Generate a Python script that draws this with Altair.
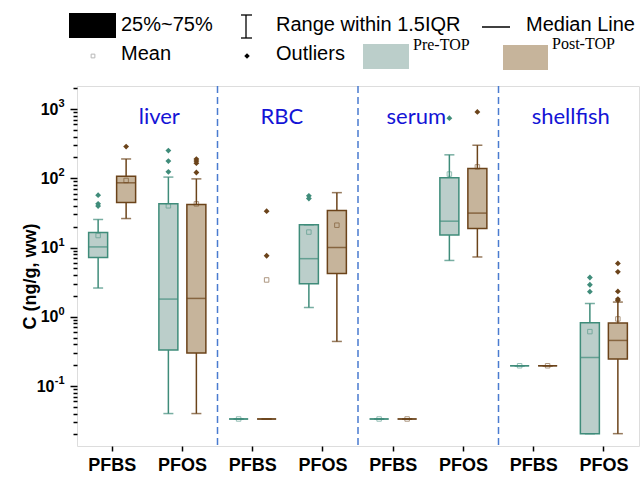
import altair as alt
import pandas as pd

groups = ["liver", "RBC", "serum", "shellfish"]
compounds = ["PFBS", "PFOS"]
treatments = ["Pre-TOP", "Post-TOP"]

# box order: group -> compound -> treatment (Pre, Post)
box_q1 = [7.2, 44.6, 0.33, 0.30, 0.0334, 0.0334, 3.0, 4.2,
          0.0334, 0.0334, 15.1, 18.8, 0.196, 0.196, 0.0205, 0.245]
box_median = [10.2, 86, 1.8, 1.84, 0.0334, 0.0334, 6.9, 10.0,
              0.0334, 0.0334, 24, 31.4, 0.196, 0.196, 0.259, 0.455]
box_q3 = [16.5, 107, 42.7, 41.8, 0.0334, 0.0334, 21.3, 34.2,
          0.0334, 0.0334, 102, 138, 0.196, 0.196, 0.82, 0.81]
whisker_low = [2.6, 26.2, 0.04, 0.04, 0.0334, 0.0334, 1.36, 0.44,
               0.0334, 0.0334, 6.5, 7.3, 0.196, 0.196, 0.0205, 0.0205]
whisker_high = [25.4, 190, 104, 98, 0.0334, 0.0334, 21.3, 62,
                0.0334, 0.0334, 218, 300, 0.196, 0.196, 1.56, 1.63]
box_mean = [14.9, 93, 40, 42.7, 0.0334, 3.4, 16.7, 21,
            0.0334, 0.0334, 115, 146, 0.196, 0.196, 0.61, 0.93]

outlier_group = ["liver"] * 11 + ["RBC"] * 4 + ["serum"] * 2 + ["shellfish"] * 8
outlier_compound = (["PFBS"] * 4 + ["PFOS"] * 7 + ["PFBS"] * 2 + ["PFOS"] * 2
                    + ["PFOS"] * 2 + ["PFOS"] * 8)
outlier_treatment = (["Pre-TOP"] * 3 + ["Post-TOP"] + ["Pre-TOP"] * 3 + ["Post-TOP"] * 4
                     + ["Post-TOP"] * 2 + ["Pre-TOP"] * 2
                     + ["Pre-TOP", "Post-TOP"]
                     + ["Pre-TOP"] * 3 + ["Post-TOP"] * 5)
outlier_value = [57, 42.7, 39.6, 287, 251, 177, 124, 189, 177, 165, 121,
                 33.5, 7.6, 55.7, 51,
                 737, 908,
                 3.69, 2.9, 2.3, 5.9, 4.46, 2.32, 1.8, 1.72]

y_major = [0.1, 1, 10, 100, 1000]
y_exponent = ["-1", "0", "1", "2", "3"]

# ---------- styling ----------
teal_fill, brown_fill = "#BBCECA", "#C6B49B"
teal_stroke, brown_stroke = "#3F8C7A", "#6B431A"
teal_out, brown_out = "#2F8A72", "#5A3210"
title_blue = "#1414D6"
dash_blue = "#4A7BD0"
label_dx = [12, -6, -12, 2]

cat_order = [f"{g}|{c}" for g in groups for c in compounds]

rows = []
i = 0
for g in groups:
    for c in compounds:
        for t in treatments:
            rows.append(dict(cat=f"{g}|{c}", treatment=t, q1=box_q1[i], med=box_median[i],
                             q3=box_q3[i], wlo=whisker_low[i], whi=whisker_high[i],
                             mean=box_mean[i]))
            i += 1
boxes = pd.DataFrame(rows)
outliers = pd.DataFrame(dict(cat=[f"{g}|{c}" for g, c in zip(outlier_group, outlier_compound)],
                             treatment=outlier_treatment, value=outlier_value))
bounds = pd.DataFrame(dict(cat=[f"{g}|PFBS" for g in groups[1:]]))
exps = pd.DataFrame(dict(value=y_major, exp=y_exponent))

ymin, ymax = 0.0136, 2150
tick_vals = [round(m * d, 6) for d in [0.01, 0.1, 1, 10, 100, 1000] for m in range(1, 10)]
tick_vals = [v for v in tick_vals if ymin <= v <= ymax]

major_test = " || ".join(f"datum.value == {k}" for k in y_major)
label_expr = f"({major_test}) ? '10' : ''"

x_axis = alt.Axis(labelExpr="split(datum.label, '|')[1]", title=None, labelAngle=0,
                  labelFont="Liberation Sans", labelFontWeight="bold", labelFontSize=18,
                  labelColor="black", labelPadding=5, tickSize=5, tickWidth=1.5,
                  tickColor="black", domain=False, grid=False)
x_scale = alt.Scale(domain=cat_order, paddingInner=0, paddingOuter=0)
y_axis = alt.Axis(values=tick_vals, labelExpr=label_expr, title="C (ng/g, ww)",
                  labelFont="Liberation Sans", labelFontWeight="bold", labelFontSize=16,
                  labelColor="black",
                  labelPadding={"condition": {"test": "datum.value == 0.1", "value": 16}, "value": 12},
                  tickSize={"condition": {"test": major_test, "value": 7}, "value": 4},
                  tickWidth=1.5, tickColor="black", domain=False, grid=False,
                  titleFont="Liberation Sans", titleFontWeight="bold", titleFontSize=18,
                  titleColor="black", titleAngle=270, titleX=-47, titleY=190,
                  titleAlign="center", titleBaseline="middle")
y_scale = alt.Scale(type="log", domain=[ymin, ymax], nice=False)

X = alt.X("cat:N", scale=x_scale, axis=x_axis)
XO = alt.XOffset("treatment:N", scale=alt.Scale(domain=treatments, paddingInner=0,
                                                paddingOuter=0.2545))
fill_enc = alt.Fill("treatment:N", scale=alt.Scale(domain=treatments, range=[teal_fill, brown_fill]), legend=None)
stroke_enc = alt.Stroke("treatment:N", scale=alt.Scale(domain=treatments, range=[teal_stroke, brown_stroke]), legend=None)
line_color = alt.Color("treatment:N", scale=alt.Scale(domain=treatments, range=[teal_stroke, brown_stroke]), legend=None)


def Y(field):
    return alt.Y(f"{field}:Q", scale=y_scale, axis=y_axis)


base = alt.Chart(boxes)

sep = alt.Chart(bounds).mark_rule(color=dash_blue, strokeWidth=1.5, strokeDash=[7, 4]).encode(
    x=alt.X("cat:N", scale=x_scale, axis=x_axis, bandPosition=0))

whisk = base.mark_rule(strokeWidth=1.5).encode(x=X, xOffset=XO, y=Y("wlo"), y2="whi", stroke=stroke_enc)
cap_hi = base.mark_tick(size=10, thickness=1.5, orient="horizontal").encode(
    x=X, xOffset=XO, y=Y("whi"), color=line_color)
cap_lo = base.mark_tick(size=10, thickness=1.5, orient="horizontal").encode(
    x=X, xOffset=XO, y=Y("wlo"), color=line_color)
box = base.mark_bar(width=19, strokeWidth=1.5).encode(
    x=X, xOffset=XO, y=Y("q1"), y2="q3", fill=fill_enc, stroke=stroke_enc)
med = base.mark_tick(size=19, thickness=1.5, orient="horizontal").encode(
    x=X, xOffset=XO, y=Y("med"), color=line_color)
mean = base.mark_point(shape="square", size=20, filled=False, strokeWidth=1, opacity=0.55).encode(
    x=X, xOffset=XO, y=Y("mean"), stroke=stroke_enc)
outl = alt.Chart(outliers).mark_point(shape="diamond", filled=True, size=34, opacity=1).encode(
    x=X, xOffset=XO, y=Y("value"),
    color=alt.Color("treatment:N", scale=alt.Scale(domain=treatments, range=[teal_out, brown_out]), legend=None))

# exponents of the y tick labels (10^n), positioned through the y scale
exp_text = alt.Chart(exps).mark_text(font="Liberation Sans", fontWeight="bold", fontSize=11,
                                     color="black", align="right", baseline="middle", dy=-5).encode(
    x=alt.value(-12.5), y=Y("value"), text="exp:N")

labels = []
for g, d in zip(groups, label_dx):
    labels.append(alt.Chart(pd.DataFrame(dict(cat=[f"{g}|PFOS"], name=[g]))).mark_text(
        font="Lato", fontSize=22, color=title_blue, baseline="middle", align="center", dx=d).encode(
        x=alt.X("cat:N", scale=x_scale, axis=x_axis, bandPosition=0), y=alt.value(31), text="name:N"))

# ---------- legend (drawn in the top padding) ----------
one = alt.Chart(pd.DataFrame({"k": [0]}))
lt = dict(font="Liberation Sans", fontSize=20, color="black", align="left", baseline="middle")
st = dict(font="Liberation Serif", fontSize=16, color="black", align="left", baseline="middle")
leg = [
    one.mark_rect(color="black").encode(x=alt.value(-8), x2=alt.value(39), y=alt.value(-73), y2=alt.value(-48)),
    one.mark_text(**lt).encode(x=alt.value(44), y=alt.value(-61), text=alt.value("25%~75%")),
    one.mark_rule(color="black", strokeWidth=1.3).encode(x=alt.value(169), y=alt.value(-71), y2=alt.value(-48)),
    one.mark_rule(color="black", strokeWidth=1.3).encode(x=alt.value(164), x2=alt.value(175), y=alt.value(-71)),
    one.mark_rule(color="black", strokeWidth=1.3).encode(x=alt.value(164), x2=alt.value(175), y=alt.value(-48)),
    one.mark_text(**lt).encode(x=alt.value(199), y=alt.value(-61), text=alt.value("Range within 1.5IQR")),
    one.mark_rule(color="black", strokeWidth=1.5).encode(x=alt.value(405), x2=alt.value(433), y=alt.value(-59)),
    one.mark_text(**lt).encode(x=alt.value(449), y=alt.value(-61), text=alt.value("Median Line")),
    one.mark_point(shape="square", size=14, filled=False, color="#9a9a9a", strokeWidth=1).encode(x=alt.value(16), y=alt.value(-30)),
    one.mark_text(**lt).encode(x=alt.value(44), y=alt.value(-32), text=alt.value("Mean")),
    one.mark_point(shape="diamond", size=30, filled=True, color="black", opacity=1).encode(x=alt.value(170), y=alt.value(-30)),
    one.mark_text(**lt).encode(x=alt.value(199), y=alt.value(-32), text=alt.value("Outliers")),
    one.mark_rect(color=teal_fill).encode(x=alt.value(286), x2=alt.value(332), y=alt.value(-42), y2=alt.value(-17)),
    one.mark_text(**st).encode(x=alt.value(336), y=alt.value(-41), text=alt.value("Pre-TOP")),
    one.mark_rect(color=brown_fill).encode(x=alt.value(426), x2=alt.value(471), y=alt.value(-41), y2=alt.value(-16)),
    one.mark_text(**st).encode(x=alt.value(475), y=alt.value(-42), text=alt.value("Post-TOP")),
]

chart = alt.layer(sep, whisk, box, med, cap_hi, cap_lo, mean, outl, exp_text, *labels, *leg).properties(
    width=562, height=360,
    padding={"left": 77, "top": 86, "right": 2, "bottom": 36},
    autosize=alt.AutoSizeParams(type="none"),
).configure_view(stroke="black", strokeWidth=2).configure(background="white")

chart.save("out.html", embed_options={"renderer": "svg", "actions": False})
